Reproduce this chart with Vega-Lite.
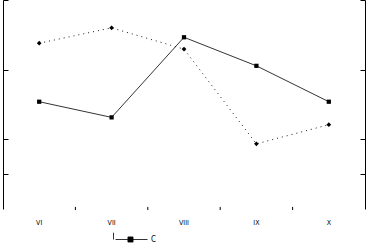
{
  "$schema": "https://vega.github.io/schema/vega-lite/v6.json",
  "width": 362,
  "height": 209,
  "autosize": "none",
  "padding": {"left": 3, "top": 0, "right": 4, "bottom": 42},
  "background": "white",
  "config": {"view": {"stroke": null}, "font": "DejaVu Sans Condensed, DejaVu Sans"},
  "data": {"values": [
    {"month": "VI", "series": "C", "value": 3.08},
    {"month": "VII", "series": "C", "value": 2.63},
    {"month": "VIII", "series": "C", "value": 4.93},
    {"month": "IX", "series": "C", "value": 4.11},
    {"month": "X", "series": "C", "value": 3.08},
    {"month": "VI", "series": "D", "value": 4.76},
    {"month": "VII", "series": "D", "value": 5.2},
    {"month": "VIII", "series": "D", "value": 4.59},
    {"month": "IX", "series": "D", "value": 1.87},
    {"month": "X", "series": "D", "value": 2.42}
  ]},
  "layer": [
    {
      "transform": [{"filter": "datum.series === 'C'"}],
      "mark": {"type": "line", "strokeWidth": 0.8, "point": {"shape": "square", "filled": true, "size": 18}},
      "encoding": {
        "x": {"field": "month", "type": "ordinal", "sort": ["VI", "VII", "VIII", "IX", "X"], "bandPosition": 0.5,
          "scale": {"type": "band", "paddingInner": 0, "paddingOuter": 0},
          "axis": {"title": null, "domain": false, "ticks": false, "labelPadding": 9, "labelFont": "DejaVu Sans Condensed, DejaVu Sans", "labelFontSize": 7, "labelColor": "black", "labelAngle": 0, "grid": false}},
        "y": {"field": "value", "type": "quantitative", "scale": {"domain": [0, 6], "zero": false, "nice": false},
          "axis": {"title": null, "orient": "left", "labels": false, "grid": false, "domainColor": "black", "tickColor": "black", "tickSize": -5, "values": [1, 2, 4, 6]}},
        "color": {"field": "series", "type": "nominal", "scale": {"range": ["black"]},
          "legend": {"title": null, "orient": "none", "legendX": 110, "legendY": 222, "symbolType": "M-1,-0.4L-1,0M-0.88,0L1,0M-0.15,-0.15L0.15,-0.15L0.15,0.15L-0.15,0.15Z", "symbolSize": 1156, "symbolStrokeWidth": 0.8, "symbolFillColor": "black", "symbolStrokeColor": "black", "labelFont": "DejaVu Sans Condensed, DejaVu Sans", "labelFontSize": 8, "labelOffset": 3, "labelColor": "black", "padding": 0}}
      }
    },
    {
      "transform": [{"filter": "datum.series === 'D'"}],
      "mark": {"type": "line", "strokeWidth": 0.9, "color": "black", "strokeDash": [1, 4], "point": {"shape": "diamond", "filled": true, "size": 22, "color": "black"}},
      "encoding": {
        "x": {"field": "month", "type": "ordinal", "sort": ["VI", "VII", "VIII", "IX", "X"], "bandPosition": 0.5,
          "scale": {"type": "band", "paddingInner": 0, "paddingOuter": 0}},
        "y": {"field": "value", "type": "quantitative", "scale": {"domain": [0, 6], "zero": false, "nice": false},
          "axis": {"title": null, "orient": "right", "labels": false, "grid": false, "domainColor": "black", "tickColor": "black", "tickSize": -5, "values": [1, 2, 4, 6]}}
      }
    },
    {
      "transform": [{"filter": "datum.series === 'C' && datum.month !== 'X'"}],
      "mark": {"type": "rule", "color": "black", "strokeWidth": 1},
      "encoding": {
        "x": {"field": "month", "type": "ordinal", "sort": ["VI", "VII", "VIII", "IX", "X"], "bandPosition": 1,
          "scale": {"type": "band", "paddingInner": 0, "paddingOuter": 0}},
        "y": {"datum": -0.03, "type": "quantitative", "scale": {"domain": [0, 6], "zero": false, "nice": false}, "axis": null},
        "y2": {"datum": 0.06}
      }
    }
  ],
  "resolve": {"scale": {"y": "independent"}, "axis": {"y": "independent"}}
}
